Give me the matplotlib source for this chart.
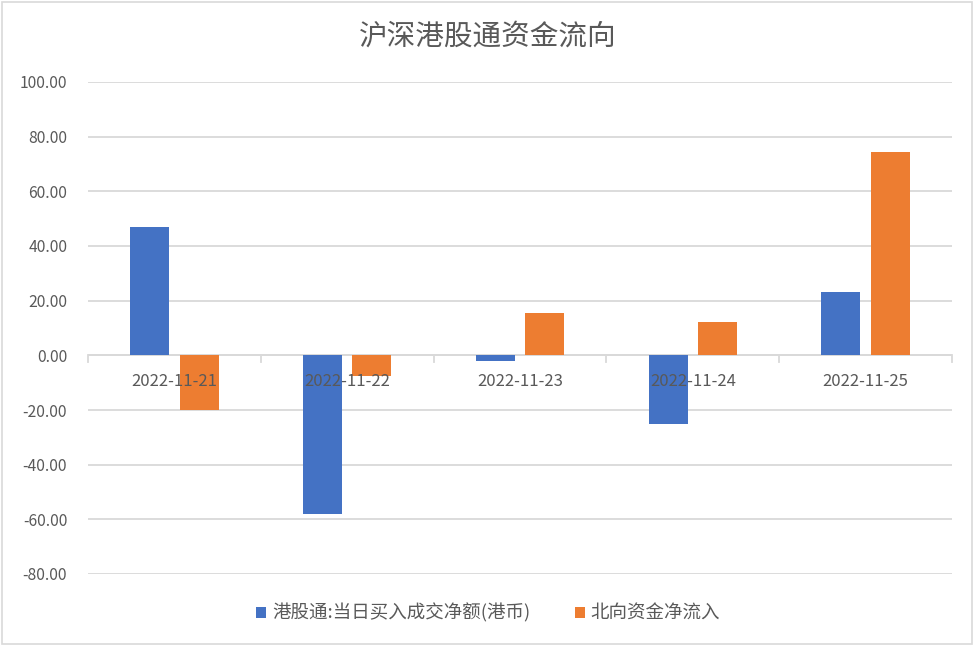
import numpy as np
import matplotlib
matplotlib.use("Agg")
import matplotlib.pyplot as plt
from matplotlib.patches import Rectangle

plt.rcParams['font.family'] = ['Noto Sans CJK SC', 'DejaVu Sans']

dates = ['2022-11-21', '2022-11-22', '2022-11-23', '2022-11-24', '2022-11-25']
southbound = [46.9, -57.9, -2.0, -25.0, 23.3]
northbound = [-20.1, -7.4, 15.6, 12.3, 74.5]
series_names = ['港股通:当日买入成交净额(港币)', '北向资金净流入']
yticks = [-80, -60, -40, -20, 0, 20, 40, 60, 80, 100]

blue = '#4472c4'
orange = '#ed7d31'
grid_c = '#d9d9d9'
text_c = '#595959'

fig = plt.figure(figsize=(9.76, 6.46), dpi=100)
fig.patches.append(Rectangle((0.002, 0.003), 0.994, 0.994, transform=fig.transFigure,
                             fill=False, edgecolor=grid_c, linewidth=1.2))
ax = fig.add_axes([88 / 976, 1 - 574 / 646, 864 / 976, 492 / 646])

x = np.arange(len(dates))
w = 0.225
off = 0.143
ax.bar(x - off, southbound, w, color=blue, label=series_names[0], zorder=2)
ax.bar(x + off, northbound, w, color=orange, label=series_names[1], zorder=2)

ax.set_xlim(-0.5, len(dates) - 0.5)
ax.set_ylim(-80, 100)
ax.set_yticks(yticks)
ax.set_yticklabels([f'{v:.2f}' for v in yticks], color=text_c, fontsize=11.3)
ax.yaxis.grid(True, color=grid_c, linewidth=1.3, zorder=0)
ax.tick_params(axis='y', length=0, pad=15)
ax.set_xticks([])
for s in ax.spines.values():
    s.set_visible(False)

# category axis at zero with boundary ticks
ax.axhline(0, color=grid_c, linewidth=1.3, zorder=1)
for b in np.arange(-0.5, len(dates), 1.0):
    ax.plot([b, b], [0, -2.3], color=grid_c, linewidth=1.3, zorder=1, clip_on=False)
for i, d in enumerate(dates):
    ax.text(i, -9.5, d, ha='center', va='center', color=text_c, fontsize=12, zorder=3)

fig.text(0.5, 1 - 37 / 646, '沪深港股通资金流向', ha='center', va='center',
         fontsize=20.6, color=text_c)

leg = fig.legend(loc='center', bbox_to_anchor=(0.5, 1 - 613 / 646), ncol=2,
                 frameon=False, fontsize=13.3, handlelength=0.55, handleheight=0.55,
                 handletextpad=0.3, columnspacing=2.4)
for t in leg.get_texts():
    t.set_color(text_c)

fig.savefig('out.png', dpi=100)
